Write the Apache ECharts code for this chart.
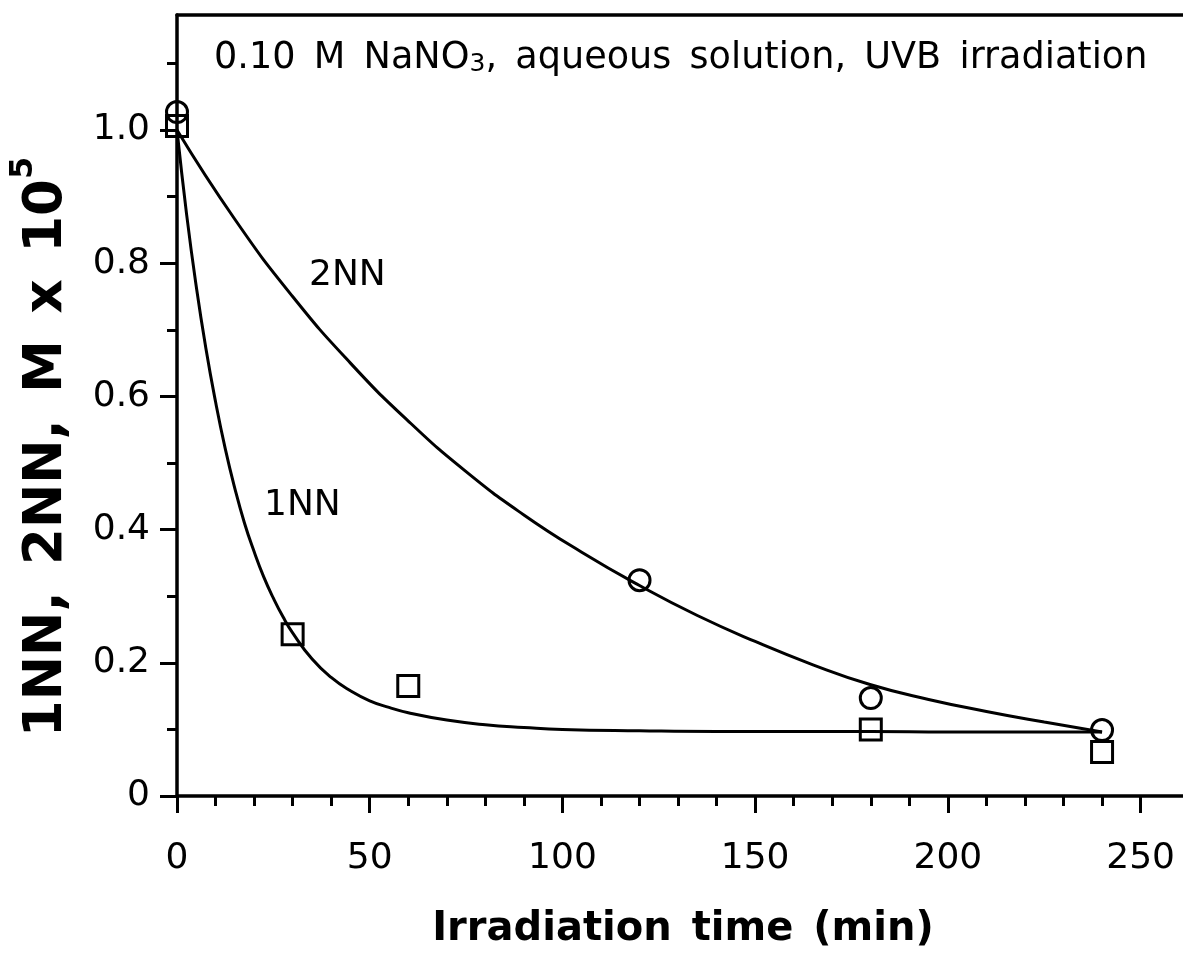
<!DOCTYPE html>
<html><head><meta charset="utf-8">
<script src="https://cdn.jsdelivr.net/npm/echarts@6/dist/echarts.min.js"></script>
<style>html,body{margin:0;padding:0;background:#fff}#c{width:1183px;height:960px}</style>
</head><body><div id="c"></div>
<script>
// measured points
const circleTimes = [0, 120, 180, 240];
const circleValues = [1.027, 0.324, 0.147, 0.099];
const squareTimes = [0, 30, 60, 180, 240];
const squareValues = [1.006, 0.243, 0.165, 0.100, 0.066];
// fitted curves
const curve2Times = [0, 15, 30, 45, 60, 75, 90, 105, 120, 135, 150, 165, 180, 195, 210, 225, 240];
const curve2Values = [1.0, 0.866, 0.75, 0.65, 0.563, 0.487, 0.422, 0.366, 0.316, 0.271, 0.232, 0.197, 0.167, 0.145, 0.127, 0.111, 0.096];
const curve1Times = [0, 2.5, 5, 7.5, 10, 12.5, 15, 17.5, 20, 22.5, 25, 27.5, 30, 35, 40, 45, 50, 55, 60, 70, 80, 90, 100, 120, 140, 160, 180, 200, 220, 240];
const curve1Values = [1.0, 0.873, 0.765, 0.672, 0.592, 0.522, 0.462, 0.41, 0.367, 0.329, 0.297, 0.269, 0.245, 0.206, 0.178, 0.158, 0.143, 0.133, 0.125, 0.114, 0.107, 0.103, 0.1, 0.098, 0.097, 0.097, 0.097, 0.096, 0.096, 0.096];
// ticks
const xMajorTicks = [0, 50, 100, 150, 200, 250];
const xMinorTicks = [10, 20, 30, 40, 60, 70, 80, 90, 110, 120, 130, 140, 160, 170, 180, 190, 210, 220, 230, 240];
const yMajorTicks = [0, 0.2, 0.4, 0.6, 0.8, 1.0];
const yMinorTicks = [0.1, 0.3, 0.5, 0.7, 0.9, 1.1];
const SP = '\u2002';
const titleParts = ['0.10' + SP + 'M' + SP + 'NaNO', '3', ',' + SP + 'aqueous' + SP + 'solution,' + SP + 'UVB' + SP + 'irradiation'];
const xTitle = 'Irradiation' + SP + 'time' + SP + '(min)';
const yTitleParts = ['1NN,' + SP + '2NN,' + SP + 'M' + SP + 'x' + SP + '10', '5'];
const label2 = '2NN';
const label1 = '1NN';

const FONT = 'DejaVu Sans';
const X_MAX = 261, Y_MAX = 1.1727;
const pairs = (xs, ys) => xs.map((x, i) => [x, ys[i]]);

const chart = echarts.init(document.getElementById('c'), null, {renderer: 'canvas'});
const axisLine = {show: true, lineStyle: {color: '#000', width: 3.5}};
const markStyle = {color: 'rgba(0,0,0,0)', borderColor: '#000', borderWidth: 3, opacity: 1};
chart.setOption({
  animation: false,
  backgroundColor: '#fff',
  grid: {left: 177, top: 15, width: 1007, height: 781},
  xAxis: [
    {type: 'value', min: 0, max: X_MAX, position: 'bottom', axisLine,
     splitLine: {show: false},
     axisTick: {show: true, customValues: xMajorTicks, length: 17, lineStyle: {width: 3, color: '#000'}},
     axisLabel: {customValues: xMajorTicks, margin: 45, fontFamily: FONT, fontSize: 36, color: '#000',
       formatter: v => String(v)}},
    {type: 'value', min: 0, max: X_MAX, position: 'bottom', axisLine: {show: false},
     splitLine: {show: false},
     axisTick: {show: true, customValues: xMinorTicks, length: 10, lineStyle: {width: 3, color: '#000'}},
     axisLabel: {show: false}},
    {type: 'value', min: 0, max: X_MAX, position: 'top', axisLine,
     splitLine: {show: false}, axisTick: {show: false}, axisLabel: {show: false}}
  ],
  yAxis: [
    {type: 'value', min: 0, max: Y_MAX, position: 'left', axisLine,
     splitLine: {show: false},
     axisTick: {show: true, customValues: yMajorTicks, length: 17, lineStyle: {width: 3, color: '#000'}},
     axisLabel: {customValues: yMajorTicks, margin: 27, fontFamily: FONT, fontSize: 36, color: '#000',
       formatter: v => v === 0 ? '0' : v.toFixed(1)}},
    {type: 'value', min: 0, max: Y_MAX, position: 'left', axisLine: {show: false},
     splitLine: {show: false},
     axisTick: {show: true, customValues: yMinorTicks, length: 10, lineStyle: {width: 3, color: '#000'}},
     axisLabel: {show: false}}
  ],
  series: [
    {type: 'line', data: pairs(curve2Times, curve2Values), smooth: 0.5, showSymbol: false,
     lineStyle: {color: '#000', width: 3}, z: 2},
    {type: 'line', data: pairs(curve1Times, curve1Values), smooth: 0.5, showSymbol: false,
     lineStyle: {color: '#000', width: 3}, z: 2},
    {type: 'scatter', data: pairs(circleTimes, circleValues), symbol: 'circle', symbolSize: 21, clip: false,
     itemStyle: markStyle, z: 3},
    {type: 'scatter', data: pairs(squareTimes, squareValues), symbol: 'rect', symbolSize: 21, clip: false,
     itemStyle: markStyle, z: 3}
  ],
  graphic: [
    {type: 'text', x: 214, y: 57, z: 10, style: {
      text: '{a|' + titleParts[0] + '}{s|' + titleParts[1] + '}{a|' + titleParts[2] + '}',
      textAlign: 'left', textVerticalAlign: 'middle',
      rich: {a: {fontFamily: FONT, fontSize: 36.6, fill: '#000', lineHeight: 40, verticalAlign: 'bottom'},
             s: {fontFamily: FONT, fontSize: 25, fill: '#000', lineHeight: 20, verticalAlign: 'bottom'}}}},
    {type: 'text', x: 683, y: 930, z: 10, style: {
      text: xTitle, textAlign: 'center', textVerticalAlign: 'middle',
      fontFamily: FONT, fontWeight: 'bold', fontSize: 40, fill: '#000'}},
    {type: 'text', x: 41, y: 447, rotation: Math.PI / 2, z: 10, style: {
      text: '{b|' + yTitleParts[0] + '}{p|' + yTitleParts[1] + '}', textAlign: 'center', textVerticalAlign: 'middle',
      rich: {b: {fontFamily: FONT, fontWeight: 'bold', fontSize: 53, fill: '#000', lineHeight: 66, verticalAlign: 'bottom'},
             p: {fontFamily: FONT, fontWeight: 'bold', fontSize: 32, fill: '#000', lineHeight: 32, verticalAlign: 'top'}}}},
    {type: 'text', x: 309, y: 276, z: 10, style: {
      text: label2, textAlign: 'left', textVerticalAlign: 'middle', fontFamily: FONT, fontSize: 36, fill: '#000'}},
    {type: 'text', x: 264, y: 506, z: 10, style: {
      text: label1, textAlign: 'left', textVerticalAlign: 'middle', fontFamily: FONT, fontSize: 36, fill: '#000'}}
  ]
});
</script></body></html>
